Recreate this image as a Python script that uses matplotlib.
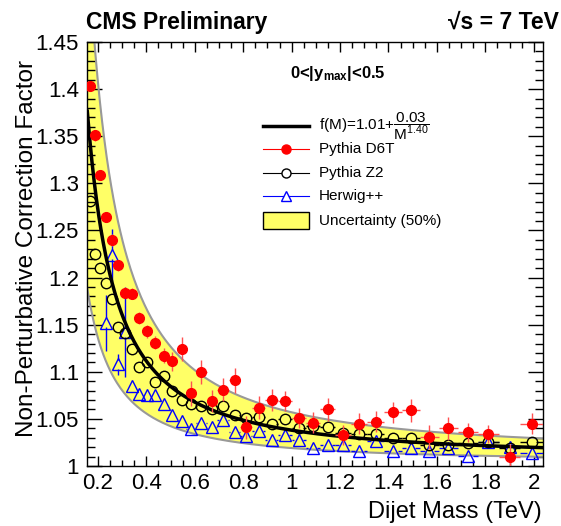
import numpy as np
import matplotlib
matplotlib.use('Agg')
import matplotlib.pyplot as plt
from matplotlib.lines import Line2D
from matplotlib.patches import Rectangle
from matplotlib.ticker import MultipleLocator, FuncFormatter

plt.rcParams['font.family'] = ['Liberation Sans', 'DejaVu Sans']
plt.rcParams['mathtext.fontset'] = 'custom'
plt.rcParams['mathtext.rm'] = 'Liberation Sans'
plt.rcParams['mathtext.it'] = 'Liberation Sans:italic'
plt.rcParams['mathtext.bf'] = 'Liberation Sans:bold'

# dijet mass bin edges (TeV)
mass_edges = [0.156, 0.176, 0.197, 0.220, 0.244, 0.270, 0.296, 0.325, 0.354, 0.386,
              0.419, 0.453, 0.489, 0.526, 0.565, 0.606, 0.649, 0.693, 0.740, 0.788,
              0.838, 0.890, 0.944, 1.000, 1.058, 1.118, 1.181, 1.246, 1.313, 1.383,
              1.455, 1.530, 1.607, 1.687, 1.770, 1.856, 1.945, 2.037]

# Pythia D6T
d6t = [1.403, 1.351, 1.309, 1.264, 1.240, 1.213, 1.184, 1.183, 1.157, 1.143,
       1.131, 1.117, 1.111, 1.124, 1.077, 1.100, 1.069, 1.081, 1.091, 1.041,
       1.062, 1.070, 1.069, 1.051, 1.046, 1.060, 1.033, 1.045, 1.047, 1.057,
       1.059, 1.031, 1.040, 1.036, 1.034, 1.010, 1.045]
d6t_err = [0.0045, 0.006, 0.005, 0.005, 0.006, 0.006, 0.006, 0.006, 0.006, 0.007,
           0.007, 0.008, 0.010, 0.0125, 0.0137, 0.0125, 0.012, 0.0125, 0.013, 0.012,
           0.012, 0.012, 0.011, 0.011, 0.011, 0.012, 0.011, 0.011, 0.011, 0.011,
           0.012, 0.013, 0.012, 0.010, 0.010, 0.013, 0.011]

# Pythia Z2
z2 = [1.281, 1.225, 1.210, 1.194, 1.177, 1.147, 1.141, 1.124, 1.105, 1.110,
      1.089, 1.095, 1.080, 1.070, 1.066, 1.064, 1.060, 1.064, 1.054, 1.051,
      1.052, 1.045, 1.050, 1.040, 1.042, 1.041, 1.035, 1.034, 1.034, 1.030,
      1.030, 1.022, 1.022, 1.024, 1.025, 1.019, 1.025]
z2_err = [0.003] * 37

# Herwig++ (first bins not shown)
herwig = [np.nan, np.nan, np.nan, 1.152, 1.224, 1.108, 1.142, 1.085, 1.076, 1.075,
          1.075, 1.066, 1.054, 1.048, 1.039, 1.046, 1.041, 1.049, 1.036, 1.032,
          1.037, 1.028, 1.033, 1.028, 1.019, 1.022, 1.022, 1.016, 1.027, 1.016,
          1.019, 1.016, 1.019, 1.011, 1.026, 1.020, 1.014]
herwig_err = [0, 0, 0, 0.030, 0.028, 0.011, 0.048, 0.004, 0.004, 0.004,
              0.004, 0.004, 0.004, 0.004, 0.004, 0.004, 0.004, 0.004, 0.004, 0.004,
              0.004, 0.004, 0.004, 0.004, 0.004, 0.004, 0.004, 0.004, 0.004, 0.004,
              0.004, 0.004, 0.004, 0.004, 0.004, 0.004, 0.004]

# fit parameters f(M) = a + b / M^p
fit_a, fit_b, fit_p = 1.008, 0.030, 1.35
unc_frac = 0.5

edges = np.array(mass_edges)
centers = 0.5 * (edges[1:] + edges[:-1])
half = 0.5 * (edges[1:] - edges[:-1])

W, H = 561, 526
fig = plt.figure(figsize=(W / 100, H / 100), dpi=100)
L, R, T, B = 87.3, 542.7, 42, 466
ax = fig.add_axes([L / W, 1 - B / H, (R - L) / W, (B - T) / H])
xlim = (edges[0], edges[-1])
ylim = (1.0, 1.45)
px_x = (R - L) / (xlim[1] - xlim[0])
px_y = (B - T) / (ylim[1] - ylim[0])


def gap_errorbar(x, y, xe, ye, color, r_px, lw=1, z=3):
    # error bars that stop at the marker edge, ROOT style
    x = np.asarray(x); y = np.asarray(y, dtype=float)
    xe = np.asarray(xe); ye = np.asarray(ye, dtype=float)
    rx, ry = r_px / px_x, r_px / px_y
    ok = np.isfinite(y)
    x, y, xe, ye = x[ok], y[ok], xe[ok], ye[ok]
    hl = xe > rx
    ax.hlines(y[hl], x[hl] - xe[hl], x[hl] - rx, color=color, lw=lw, zorder=z)
    ax.hlines(y[hl], x[hl] + rx, x[hl] + xe[hl], color=color, lw=lw, zorder=z)
    vl = ye > ry
    ax.vlines(x[vl], y[vl] - ye[vl], y[vl] - ry, color=color, lw=lw, zorder=z)
    ax.vlines(x[vl], y[vl] + ry, y[vl] + ye[vl], color=color, lw=lw, zorder=z)


m = np.linspace(edges[0], edges[-1], 400)
f = fit_a + fit_b / m ** fit_p
lo = 1 + (1 - unc_frac) * (f - 1)
hi = 1 + (1 + unc_frac) * (f - 1)
ax.fill_between(m, lo, hi, color='#ffff66', lw=0, zorder=1)
ax.plot(m, lo, color='#999999', lw=1.5, zorder=2)
ax.plot(m, hi, color='#999999', lw=1.5, zorder=2)

gap_errorbar(centers, herwig, half, herwig_err, 'blue', 4.5, z=3)
ax.plot(centers, herwig, '^', ms=8, mfc='none', mec='blue', mew=1, zorder=3)
ax.plot(m, f, color='black', lw=2.5, zorder=4)
gap_errorbar(centers, z2, half, z2_err, 'black', 4.8, z=5)
ax.plot(centers, z2, 'o', ms=7.5, mfc='none', mec='black', mew=1, zorder=5)
ax.errorbar(centers, d6t, xerr=half, yerr=d6t_err, fmt='o', ms=7, mfc='red',
            mec='red', ecolor='#ff5050', elinewidth=1, capsize=0, zorder=6)

ax.set_xlim(*xlim)
ax.set_ylim(*ylim)
ax.xaxis.set_major_locator(MultipleLocator(0.2))
ax.xaxis.set_minor_locator(MultipleLocator(0.05))
ax.yaxis.set_major_locator(MultipleLocator(0.05))
ax.yaxis.set_minor_locator(MultipleLocator(0.01))
fmt = FuncFormatter(lambda v, pos: f'{v:g}')
ax.xaxis.set_major_formatter(fmt)
ax.yaxis.set_major_formatter(fmt)
ax.tick_params(which='both', direction='in', top=True, right=True, labelsize=16, width=1)
ax.tick_params(axis='x', which='major', length=7.5, pad=5)
ax.tick_params(axis='x', which='minor', length=4.3)
ax.tick_params(axis='y', which='major', length=10.5, pad=6)
ax.tick_params(axis='y', which='minor', length=5.5)
for s in ax.spines.values():
    s.set_linewidth(1)

# overlay in pixel coordinates for texts and legend
ov = fig.add_axes([0, 0, 1, 1])
ov.set_xlim(0, W)
ov.set_ylim(H, 0)
ov.axis('off')

ov.text(86, 29, 'CMS Preliminary', fontsize=16.5, fontweight='bold', ha='left', va='baseline')
ov.text(559, 29, '√s = 7 TeV', fontsize=16.5, fontweight='bold', ha='right', va='baseline')
ov.text(338, 78, r'0<|y$_{\mathbf{max}}$|<0.5', fontsize=12, fontweight='bold',
        ha='center', va='baseline')
ov.text(542, 512, 'Dijet Mass (TeV)', fontsize=17, ha='right', va='center')
ov.text(27, 60, 'Non-Perturbative Correction Factor', fontsize=17.5, rotation=90,
        ha='center', va='top')

# legend
hx0, hx1, tx = 263, 309, 319
rows = [126, 149, 172.7, 196, 220.7]
ov.add_line(Line2D([hx0, hx1], [rows[0]] * 2, color='black', lw=2.5))
ov.text(tx, rows[0], r'f(M)=1.01+$\mathregular{\dfrac{0.03}{M^{1.40}}}$', fontsize=11, va='center')
ov.add_line(Line2D([hx0, hx1], [rows[1]] * 2, color='red', lw=0.8))
ov.plot([0.5 * (hx0 + hx1)], [rows[1]], 'o', ms=6.5, color='red')
ov.text(tx, rows[1], 'Pythia D6T', fontsize=11, va='center')
ov.add_line(Line2D([hx0, hx1], [rows[2]] * 2, color='black', lw=0.8))
ov.plot([0.5 * (hx0 + hx1)], [rows[2]], 'o', ms=6.5, mfc='white', mec='black', mew=1)
ov.text(tx, rows[2], 'Pythia Z2', fontsize=11, va='center')
ov.add_line(Line2D([hx0, hx1], [rows[3]] * 2, color='blue', lw=0.8))
ov.plot([0.5 * (hx0 + hx1)], [rows[3]], '^', ms=7, mfc='white', mec='blue', mew=1)
ov.text(tx, rows[3], 'Herwig++', fontsize=11, va='center')
ov.add_patch(Rectangle((hx0, 212.3), hx1 - hx0, 16.7, facecolor='#ffff66', edgecolor='black', lw=1))
ov.text(tx, rows[4], 'Uncertainty (50%)', fontsize=11, va='center')

fig.savefig('out.png', dpi=100)
